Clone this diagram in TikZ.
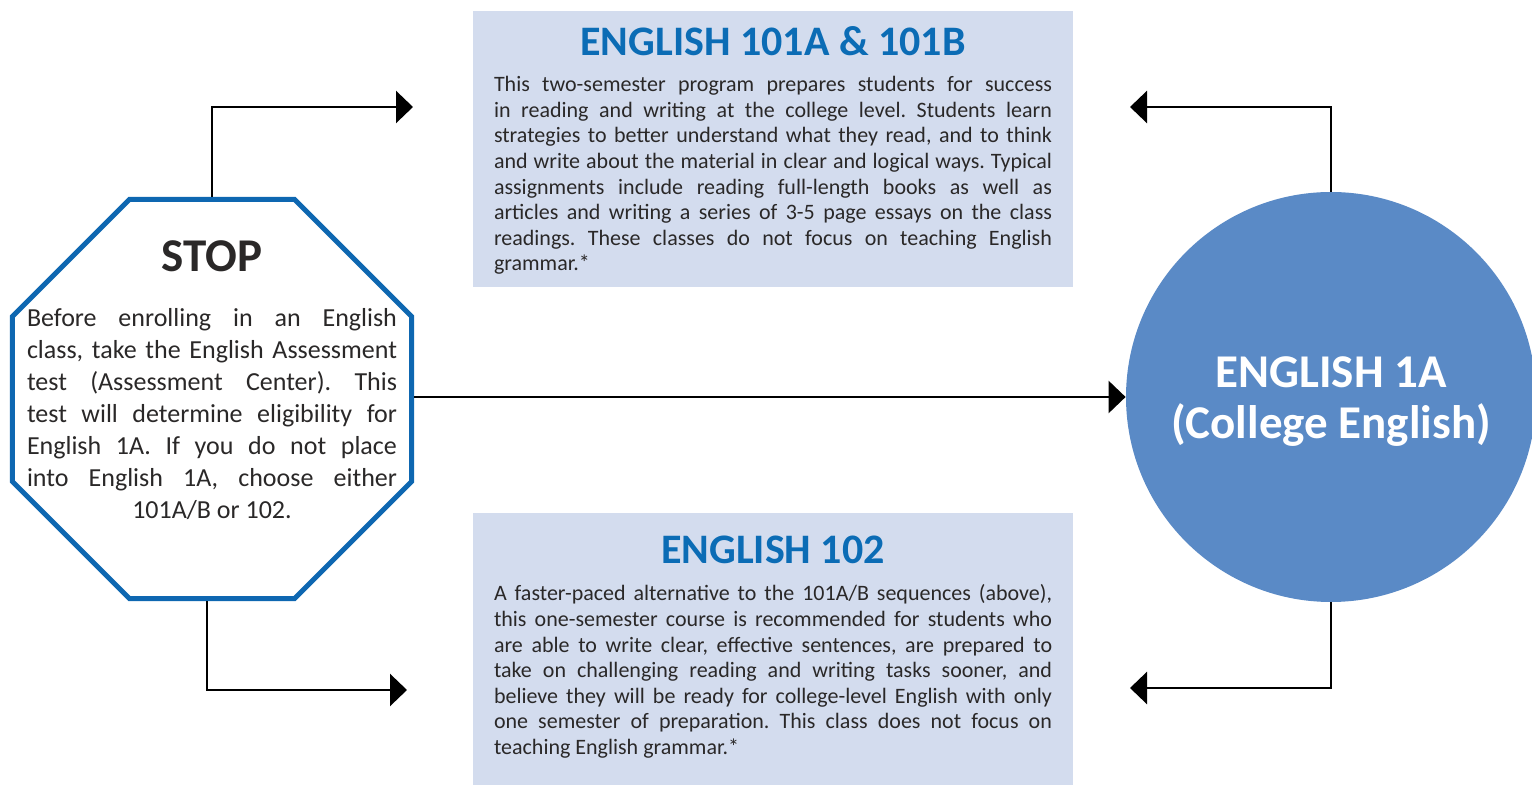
\documentclass[tikz,border=0pt]{standalone}
\usepackage{fontspec}
\setmainfont{Carlito}
\usepackage{tikz}
\usetikzlibrary{calc}
\usetikzlibrary{arrows.meta,shapes}
\usetikzlibrary{positioning}
\definecolor{boxbg}{HTML}{D3DCEE}
\definecolor{titleblue}{HTML}{0B6CB5}
\definecolor{stopblue}{HTML}{0E67B1}
\definecolor{circblue}{HTML}{5A8AC6}
\definecolor{ink}{HTML}{2A2828}
\frenchspacing
\newcommand{\lb}{\linebreak}
\newcommand{\cf}{\hspace*{\fill}}
\tikzset{
  course/.style={rectangle,fill=boxbg,minimum width=300pt,minimum height=138pt,inner sep=0pt},
  ctitle/.style={font=\bfseries\fontsize{21}{21}\selectfont,text=titleblue,inner sep=0pt},
  ctext/.style={font=\fontsize{11}{12.8}\selectfont,text=ink,text width=279pt,align=justify,inner sep=0pt},
  flow/.style={line width=1.25pt,-{Triangle[length=8.5pt,width=16pt]}}
}

\begin{document}
\begin{tikzpicture}[x=0.5pt,y=-0.5pt]
    \useasboundingbox (0,0) rectangle (1532,785);
    \node (c101) [course] at (773,149) {};
    \node (c102) [course] at (773,651) {};
    \node (t101) [ctitle] at (773,41) {ENGLISH 101A \& 101B};
    \node (x101) [ctext,below=10pt of t101] {This two-semester program prepares students for success\lb
      in reading and writing at the college level. Students learn\lb
      strategies to better understand what they read, and to think\lb
      and write about the material in clear and logical ways. Typical\lb
      assignments include reading full-length books as well as\lb
      articles and writing a series of 3-5 page essays on the class\lb
      readings. These classes do not focus on teaching English\lb
      grammar.*};
    \node (t102) [ctitle] at (773,550) {ENGLISH 102};
    \node (x102) [ctext,below=10pt of t102] {A faster-paced alternative to the 101A/B sequences (above),\lb
      this one-semester course is recommended for students who\lb
      are able to write clear, effective sentences, are prepared to\lb
      take on challenging reading and writing tasks sooner, and\lb
      believe they will be ready for college-level English with only\lb
      one semester of preparation. This class does not focus on\lb
      teaching English grammar.*};
    \node (stop) [regular polygon,regular polygon sides=8,minimum size=216pt,
      draw=stopblue,line width=2.5pt,fill=white,inner sep=0pt] at (212,399) {};
    \node (stopt) [font=\bfseries\fontsize{23.5}{23.5}\selectfont,text=ink,inner sep=0pt] at (212,256) {STOP};
    \node (stopx) [below=18pt of stopt,font=\fontsize{13}{16}\selectfont,text=ink,
      text width=185pt,align=justify,inner sep=0pt] {Before enrolling in an English\lb
      class, take the English Assessment\lb
      test (Assessment Center). This\lb
      test will determine eligibility for\lb
      English 1A. If you do not place\lb
      into English 1A, choose either\lb
      \cf 101A/B or 102.\cf};
    \node (e1a) [circle,fill=circblue,minimum size=205pt,inner sep=0pt] at (1331,397) {};
    \node (e1at) [text=white,font=\bfseries\fontsize{23.5}{25.5}\selectfont,align=center,
      yshift=-2.5pt] at (e1a) {ENGLISH 1A\\(College English)};
    \coordinate (a101) at (413,107);
    \coordinate (a102) at (407,690);
    \coordinate (b101) at (1130,107);
    \coordinate (b102) at (1130,688);
    \draw[flow] (stop.north) |- (a101);
    \draw[flow] ([xshift=-2.5pt]stop.south) |- (a102);
    \draw[flow] (stop.east |- e1a.west) -- (e1a.west);
    \draw[flow] (e1a.north) |- (b101);
    \draw[flow] (e1a.south) |- (b102);
\end{tikzpicture}
\end{document}
